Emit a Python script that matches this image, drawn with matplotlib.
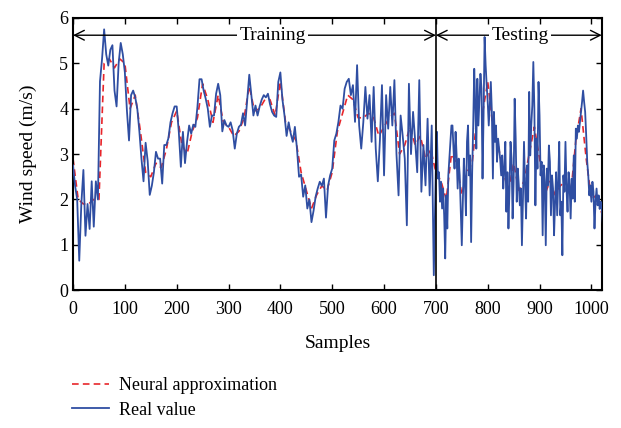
import numpy as np
import matplotlib
matplotlib.use("Agg")
import matplotlib.pyplot as plt

# measured wind speed, training span: one value every 4 samples (0 .. 696)
TRAIN_STEP = 4
real_train = [
    2.75, 2.3, 2.0, 0.65, 1.9, 2.65, 1.2, 1.9, 1.35, 2.4, 1.4, 2.4, 2.0,       # 0-48
    4.6, 5.1, 5.75, 5.2, 4.95, 5.3, 5.4, 4.4, 4.05, 5.0, 5.45, 5.2, 4.8,       # 52-100
    3.95, 3.3, 4.3, 4.4, 4.25, 4.0, 3.5, 2.9, 2.4, 3.25, 2.85,                 # 104-144
    2.1, 2.3, 2.6, 3.05, 2.9, 2.9, 2.35, 3.2, 3.2, 3.35, 3.7, 3.9, 4.05,       # 148-196
    4.05, 3.5, 2.72, 3.49, 2.8, 3.27, 3.63, 3.45, 3.65, 3.6, 4.04, 4.65,       # 200-244
    4.65, 4.4, 4.22, 4.0, 3.6, 3.85, 3.85, 4.33, 4.55, 4.3, 3.5, 3.75,         # 248-292
    3.63, 3.6, 3.7, 3.52, 3.12, 3.45, 3.6, 3.65, 3.9, 3.63, 4.2, 4.75,         # 296-340
    4.3, 3.85, 4.07, 3.85, 4.05, 4.2, 4.3, 4.25, 4.33, 4.1, 3.93, 3.85,        # 344-388
    3.82, 4.59, 4.8, 4.2, 3.85, 3.4, 3.7, 3.45, 3.27, 3.6, 3.12, 2.5,          # 392-436
    2.55, 2.06, 2.31, 1.8, 2.0, 1.5, 1.75, 2.06, 2.24, 2.39, 2.3, 2.46,        # 440-484
    1.6, 2.3, 2.53, 2.68, 3.3, 3.45, 3.71, 4.07, 4.0, 4.44, 4.59, 4.66,        # 488-532
    4.3, 4.52, 3.71, 4.96, 3.63, 3.12, 3.7, 4.48, 3.78, 4.3, 3.27, 4.48,       # 536-580
    3.12, 2.4, 3.3, 4.52, 2.53, 4.3, 3.56, 4.48, 3.63, 4.63, 3.0, 2.09,        # 584-628
    3.85, 3.4, 2.9, 1.43, 4.55, 3.0, 3.93, 3.3, 2.6, 4.63, 2.17, 3.2,          # 632-676
    2.31, 3.78, 2.09, 3.63, 0.33,                                              # 680-696
]

# measured wind speed, testing span: one value every 2 samples (700 .. 1020)
TEST_START = 700
TEST_STEP = 2
real_test = [
    2.75, 3.49, 2.46, 2.6, 1.95, 2.39, 1.8, 2.24, 1.65, 0.7, 2.09, 1.36,       # 700-722
    2.53, 2.9, 3.27, 3.63,                                                     # 724-730
    3.63, 3.12, 2.68, 3.49, 2.97, 2.24, 2.9, 2.53, 1.73, 0.99, 1.95, 2.9,      # 732-754
    2.39, 1.65, 3.27, 3.63, 2.53, 2.97, 1.06, 2.6, 3.63, 4.88, 4.07, 3.12,     # 756-778
    4.66, 3.63, 4.22, 4.77, 4.44, 2.46, 3.85, 5.58, 4.96, 4.52, 4.15, 3.63,    # 780-802
    4.07, 4.59, 3.93, 2.46, 3.93, 3.27, 3.63, 2.83, 3.34, 3.12, 2.9, 2.53,     # 804-826
    2.97, 2.24, 2.68, 3.27, 1.73, 2.6, 1.36, 2.24, 3.27, 2.9, 1.58, 2.39,      # 828-850
    4.22, 3.34, 1.95, 2.68, 2.31, 1.87, 2.24, 0.99, 2.02, 3.27, 2.31, 1.58,    # 852-874
    2.75, 1.95,                                                                # 876-878
    4.37, 2.97, 3.63, 4.07, 5.03, 4.0, 1.87, 3.34, 2.68, 4.59, 3.85, 2.53,     # 880-902
    2.83, 1.21, 2.75, 2.39, 0.99, 2.68, 2.31, 3.19, 2.83, 1.65, 2.53, 2.24,    # 904-926
    1.21, 1.95, 2.6, 1.65, 2.39, 3.27, 1.65, 1.95, 0.77, 2.53, 2.17, 3.27,     # 928-950
    2.24, 1.73, 2.6, 2.31, 1.58, 2.46, 2.02, 2.97, 1.95, 3.56, 3.34, 3.63,     # 952-974
    3.49, 3.71, 3.93, 4.15, 4.4, 4.15, 3.93, 3.41, 2.83, 2.53, 2.09, 2.31,     # 976-998
    1.95, 2.39, 2.17, 1.36, 1.95, 2.24, 1.87, 2.09, 1.79, 1.95, 1.87, 1.5,     # 1000-1022
    1.06,
]

# network output, one value every 10 samples (0 .. 1020)
NEURAL_STEP = 10
neural_approx = [
    2.9, 2.0, 1.9, 1.9, 2.0, 2.0, 5.0, 5.1, 4.9, 5.1, 5.0, 4.0, 4.3, 3.5,
    2.6, 2.5, 2.8, 2.7, 3.1, 3.7, 3.95, 3.2, 3.0, 3.5, 3.8, 4.55, 4.2, 3.7,
    4.3, 3.7, 3.6, 3.4, 3.5, 3.8, 4.5, 3.95, 4.0, 4.2, 4.2, 3.85, 4.6, 3.7,
    3.5, 3.3, 2.6, 2.2, 1.8, 2.1, 2.3, 2.2, 2.6, 3.5, 3.9, 4.3, 4.2, 3.8,
    3.8, 3.9, 3.8, 3.4, 3.6, 3.8, 3.9, 3.0, 3.2, 3.6, 3.2, 3.4, 2.9, 3.1,
    2.6, 2.4, 2.0, 3.0, 2.8, 2.1, 2.6, 2.8, 3.9, 3.9, 4.6, 3.6, 3.2, 2.6,
    2.2, 2.8, 2.2, 2.4, 3.0, 3.6, 2.9, 2.1, 2.4, 2.1, 2.3, 2.4, 2.1, 3.3,
    4.0, 2.9, 2.0, 2.1, 1.7,
]

SPLIT = 700          # end of training span
ARROW_Y = 5.62

x_real = np.concatenate([np.arange(len(real_train)) * TRAIN_STEP,
                         TEST_START + np.arange(len(real_test)) * TEST_STEP])
y_real = np.concatenate([real_train, real_test])
x_neural = np.arange(len(neural_approx)) * NEURAL_STEP

plt.rcParams["font.family"] = ["Liberation Serif", "DejaVu Serif"]
plt.rcParams["font.size"] = 12

fig = plt.figure(figsize=(6.21, 4.28), dpi=100)
ax = fig.add_axes([0.1176, 0.322, 0.8514, 0.636])

l_nn, = ax.plot(x_neural, neural_approx, color="#e8262b", lw=1.2, ls=(0, (4, 2.5)),
                label="Neural approximation", zorder=2)
l_real, = ax.plot(x_real, y_real, color="#2f4ea2", lw=1.3,
                  label="Real value", zorder=3)

ax.axvline(SPLIT, color="black", lw=1.2, zorder=4)

# training / testing span markers
arrow = dict(arrowstyle="<->,head_length=0.5,head_width=0.25", color="black",
             lw=1.0, shrinkA=0, shrinkB=0, mutation_scale=14)
ax.annotate("", xy=(0, ARROW_Y), xytext=(SPLIT, ARROW_Y), arrowprops=arrow, zorder=5)
ax.annotate("", xy=(SPLIT, ARROW_Y), xytext=(1020, ARROW_Y), arrowprops=arrow, zorder=5)
box = dict(facecolor="white", edgecolor="none", pad=1.5)
ax.text(385, ARROW_Y, "Training", ha="center", va="center", fontsize=14, bbox=box, zorder=6)
ax.text(862, ARROW_Y, "Testing", ha="center", va="center", fontsize=14, bbox=box, zorder=6)

ax.set_xlim(0, 1020)
ax.set_ylim(0, 6)
ax.set_xticks(range(0, 1001, 100))
ax.set_yticks(range(0, 7))
ax.tick_params(direction="in", top=True, right=True, length=4, width=1.0, labelsize=13)
ax.tick_params(axis="x", pad=8)
for s in ax.spines.values():
    s.set_linewidth(1.5)

ax.set_xlabel("Samples", fontsize=14, labelpad=12)
ax.set_ylabel("Wind speed (m/s)", fontsize=14, labelpad=16)

fig.legend(handles=[l_nn, l_real], loc="upper left", bbox_to_anchor=(0.105, 0.135),
           frameon=False, fontsize=13, handlelength=2.0, labelspacing=0.4,
           borderaxespad=0, handletextpad=0.6)

fig.savefig("out.png", dpi=100)
